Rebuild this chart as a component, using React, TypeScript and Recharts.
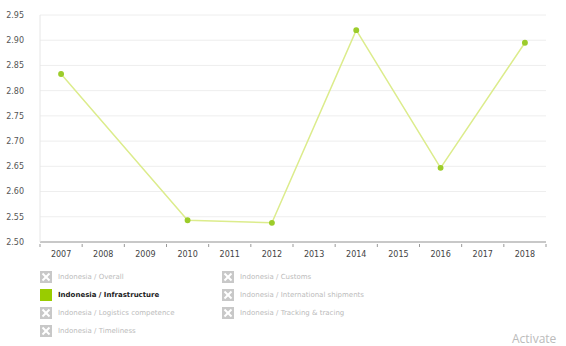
import React from 'react';
import { LineChart, Line, XAxis, YAxis, CartesianGrid } from 'recharts';

const years = ['2007', '2008', '2009', '2010', '2011', '2012', '2013', '2014', '2015', '2016', '2017', '2018'];
const infrastructure: (number | null)[] = [2.833, null, null, 2.543, null, 2.538, null, 2.92, null, 2.647, null, 2.895];
const yTicks = [2.5, 2.55, 2.6, 2.65, 2.7, 2.75, 2.8, 2.85, 2.9, 2.95];

const legendLeft = ['Indonesia / Overall', 'Indonesia / Infrastructure', 'Indonesia / Logistics competence', 'Indonesia / Timeliness'];
const legendRight = ['Indonesia / Customs', 'Indonesia / International shipments', 'Indonesia / Tracking & tracing'];
const activeSeries = 'Indonesia / Infrastructure';

const data = years.map((year, i) => ({ year, value: infrastructure[i] }));

const FONT = '"DejaVu Sans", Verdana, sans-serif';
const CHART_W = 566;
const LEFT = 40;
const RIGHT = 20;
const step = (CHART_W - LEFT - RIGHT) / years.length;

// tick y arrives already shifted by tickSize (6), so the axis line sits at y - 6
const XTick = (props: any) => {
  const { x, y, payload, index } = props;
  const axisY = y - 6;
  return (
    <g>
      <line x1={x - step / 2} x2={x - step / 2} y1={axisY} y2={axisY + 3} stroke="#999" />
      {index === years.length - 1 && <line x1={x + step / 2} x2={x + step / 2} y1={axisY} y2={axisY + 3} stroke="#999" />}
      <text x={x} y={axisY + 13} textAnchor="middle" fontSize={8} fill="#444" fontFamily={FONT}>
        {payload.value}
      </text>
    </g>
  );
};

const LegendItem = ({ label }: { label: string }) => {
  const on = label === activeSeries;
  return (
    <div style={{ display: 'flex', alignItems: 'center', height: 18 }}>
      {on ? (
        <div style={{ width: 12, height: 12, background: '#99cc00', marginRight: 6 }} />
      ) : (
        <svg width={12} height={12} style={{ marginRight: 6 }}>
          <rect width={12} height={12} fill="#c8c8c8" />
          <line x1={2.5} y1={2.5} x2={9.5} y2={9.5} stroke="#fff" strokeWidth={2} />
          <line x1={9.5} y1={2.5} x2={2.5} y2={9.5} stroke="#fff" strokeWidth={2} />
        </svg>
      )}
      <span style={{ fontSize: 7, color: on ? '#222' : '#bbb', fontWeight: on ? 'bold' : 'normal', fontFamily: FONT }}>
        {label}
      </span>
    </div>
  );
};

export default function App() {
  return (
    <div style={{ position: 'absolute', left: 0, top: 0, width: 566, height: 346, background: '#fff', overflow: 'hidden' }}>
      <LineChart width={CHART_W} height={270} data={data} margin={{ top: 15, right: RIGHT, bottom: 0, left: 0 }}>
        <CartesianGrid vertical={false} stroke="#eeeeee" />
        <XAxis
          dataKey="year"
          scale="band"
          height={28}
          tickLine={false}
          axisLine={{ stroke: '#999' }}
          tick={<XTick />}
          interval={0}
        />
        <YAxis
          domain={[2.5, 2.95]}
          ticks={yTicks}
          width={LEFT}
          tickFormatter={(v: number) => v.toFixed(2)}
          tickLine={false}
          axisLine={{ stroke: '#e6e6e6' }}
          tickMargin={10}
          tick={{ fontSize: 8, fill: '#555', fontFamily: FONT }}
        />
        <Line
          dataKey="value"
          connectNulls
          stroke="#dcec8c"
          strokeWidth={1.5}
          dot={{ r: 2.2, fill: '#9ccc2a', stroke: '#9ccc2a' }}
          isAnimationActive={false}
        />
      </LineChart>
      <div style={{ position: 'absolute', left: 40, top: 268, display: 'flex' }}>
        <div style={{ width: 182 }}>
          {legendLeft.map((l) => (
            <LegendItem key={l} label={l} />
          ))}
        </div>
        <div>
          {legendRight.map((l) => (
            <LegendItem key={l} label={l} />
          ))}
        </div>
      </div>
      <div style={{ position: 'absolute', left: 512, top: 333, fontSize: 12, lineHeight: '12px', color: '#bbb', fontFamily: '"Open Sans", sans-serif' }}>
        Activate
      </div>
    </div>
  );
}
